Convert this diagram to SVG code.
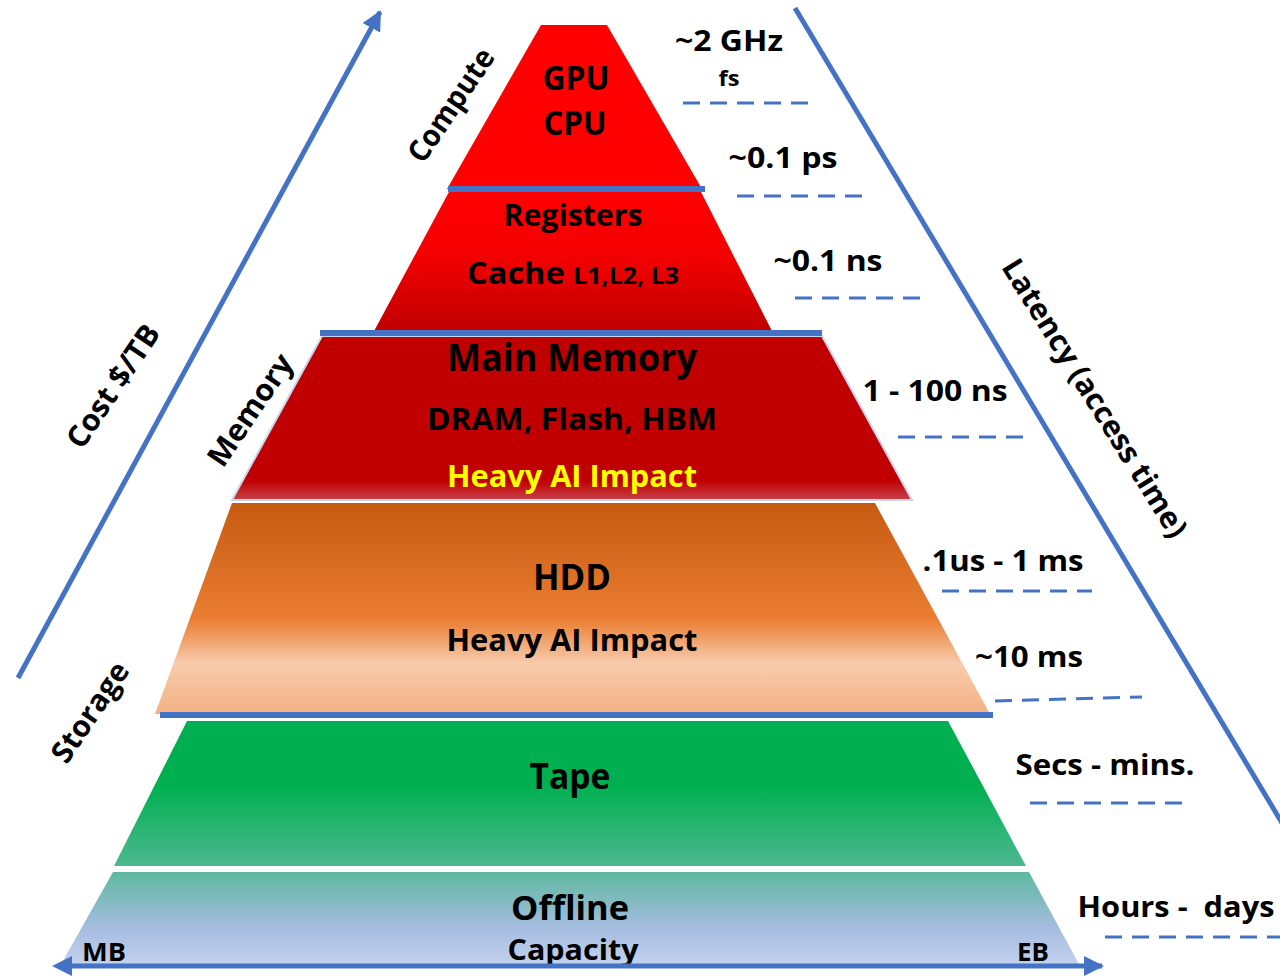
<svg xmlns="http://www.w3.org/2000/svg" width="1280" height="977" viewBox="0 0 1280 977">
<defs>
<style>
.t{font-family:"Open Sans","Liberation Sans",sans-serif;font-weight:bold;fill:#000;}
.m{text-anchor:middle;}
.blue{stroke:#4472C4;fill:none;}
.dash{stroke:#4472C4;stroke-width:3;stroke-dasharray:17 10;fill:none;}
.sep{stroke:#4472C4;stroke-width:6;}
</style>
<linearGradient id="gReg" x1="0" y1="0" x2="0" y2="1">
<stop offset="0" stop-color="#FF0000"/><stop offset="0.45" stop-color="#F50000"/><stop offset="1" stop-color="#BE0000"/>
</linearGradient>
<linearGradient id="gMem" x1="0" y1="0" x2="0" y2="1">
<stop offset="0" stop-color="#C00000"/><stop offset="0.88" stop-color="#C00000"/><stop offset="1" stop-color="#C8404A"/>
</linearGradient>
<linearGradient id="gHdd" x1="0" y1="0" x2="0" y2="1">
<stop offset="0" stop-color="#C55A11"/><stop offset="0.55" stop-color="#EA7D31"/><stop offset="0.76" stop-color="#F8CBAD"/><stop offset="1" stop-color="#F4B183"/>
</linearGradient>
<linearGradient id="gTape" x1="0" y1="0" x2="0" y2="1">
<stop offset="0" stop-color="#00B050"/><stop offset="0.45" stop-color="#00B050"/><stop offset="1" stop-color="#4DB890"/>
</linearGradient>
<linearGradient id="gOff" x1="0" y1="0" x2="0" y2="1">
<stop offset="0" stop-color="#5EB8A0"/><stop offset="0.6" stop-color="#A6BDE0"/><stop offset="1" stop-color="#C4D2EE"/>
</linearGradient>
<marker id="ah" viewBox="0 0 10 10" refX="9" refY="5" markerWidth="4" markerHeight="4" orient="auto" markerUnits="strokeWidth">
<path d="M0,0 L10,5 L0,10 z" fill="#4472C4"/>
</marker>
<marker id="ahs" viewBox="0 0 10 10" refX="1" refY="5" markerWidth="4" markerHeight="4" orient="auto-start-reverse" markerUnits="strokeWidth">
<path d="M0,0 L10,5 L0,10 z" fill="#4472C4"/>
</marker>
</defs>
<rect width="1280" height="977" fill="#FFFFFF"/>

<g id="layer-compute">
<polygon points="541,25 607,25 702,189 447,189" fill="#FF0000"/>
<text class="t m" x="576" y="90" font-size="34" textLength="67" lengthAdjust="spacingAndGlyphs">GPU</text>
<text class="t m" x="575" y="135" font-size="34" textLength="63" lengthAdjust="spacingAndGlyphs">CPU</text>
</g>

<g id="layer-cache">
<polygon points="450,190 700,190 773,333 373,333" fill="url(#gReg)"/>
<text class="t m" x="573" y="226" font-size="30" textLength="139" lengthAdjust="spacingAndGlyphs">Registers</text>
<text class="t m" x="573" y="284" font-size="30" textLength="212" lengthAdjust="spacingAndGlyphs">Cache <tspan font-size="23">L1,L2, L3</tspan></text>
</g>

<g id="layer-memory">
<polygon points="322,336 822,336 912,500 232,500" fill="url(#gMem)" stroke="#C9D6EE" stroke-width="2"/>
<text class="t m" x="572" y="371" font-size="38" textLength="250" lengthAdjust="spacingAndGlyphs">Main Memory</text>
<text class="t m" x="572" y="430" font-size="31" textLength="290" lengthAdjust="spacingAndGlyphs">DRAM, Flash, HBM</text>
<text class="t m" x="572" y="487" font-size="31" textLength="250" lengthAdjust="spacingAndGlyphs" style="fill:#FFFF00">Heavy AI Impact</text>
</g>

<g id="layer-hdd">
<polygon points="232,503 875,503 990,714 155,714" fill="url(#gHdd)"/>
<text class="t m" x="572" y="590" font-size="35" textLength="78" lengthAdjust="spacingAndGlyphs">HDD</text>
<text class="t m" x="572" y="651" font-size="31" textLength="251" lengthAdjust="spacingAndGlyphs">Heavy AI Impact</text>
</g>

<g id="layer-tape">
<polygon points="187,721 948,721 1026,866 114,866" fill="url(#gTape)"/>
<text class="t m" x="570" y="789" font-size="35" textLength="81" lengthAdjust="spacingAndGlyphs">Tape</text>
</g>

<g id="layer-offline">
<polygon points="113,872 1029,872 1080,966 60,966" fill="url(#gOff)"/>
<text class="t m" x="570" y="920" font-size="34" textLength="118" lengthAdjust="spacingAndGlyphs">Offline</text>
<text class="t m" x="573" y="960" font-size="28" textLength="131" lengthAdjust="spacingAndGlyphs">Capacity</text>
<text class="t m" x="104" y="961" font-size="25" textLength="44" lengthAdjust="spacingAndGlyphs">MB</text>
<text class="t m" x="1033" y="961" font-size="25" textLength="32" lengthAdjust="spacingAndGlyphs">EB</text>
</g>

<g id="latency-labels">
<text class="t m" x="729" y="51" font-size="29" textLength="108" lengthAdjust="spacingAndGlyphs">~2 GHz</text>
<text class="t m" x="729" y="86" font-size="22" textLength="21" lengthAdjust="spacingAndGlyphs">fs</text>
<text class="t m" x="783" y="168" font-size="29" textLength="109" lengthAdjust="spacingAndGlyphs">~0.1 ps</text>
<text class="t m" x="828" y="271" font-size="29" textLength="109" lengthAdjust="spacingAndGlyphs">~0.1 ns</text>
<text class="t m" x="935" y="401" font-size="29" textLength="145" lengthAdjust="spacingAndGlyphs">1 - 100 ns</text>
<text class="t m" x="1003" y="571" font-size="29" textLength="161" lengthAdjust="spacingAndGlyphs">.1us - 1 ms</text>
<text class="t m" x="1029" y="667" font-size="29" textLength="108" lengthAdjust="spacingAndGlyphs">~10 ms</text>
<text class="t m" x="1105" y="775" font-size="29" textLength="179" lengthAdjust="spacingAndGlyphs">Secs - mins.</text>
<text class="t m" x="1176" y="917" font-size="29" textLength="197" lengthAdjust="spacingAndGlyphs">Hours -&#160; days</text>
</g>

<g id="axis-labels">
<text class="t m" x="0" y="0" dy="0.35em" font-size="30" textLength="142" lengthAdjust="spacingAndGlyphs" transform="translate(113,386) rotate(-56)">Cost $/TB</text>
<text class="t m" x="0" y="0" dy="0.35em" font-size="30" textLength="130" lengthAdjust="spacingAndGlyphs" transform="translate(451,105) rotate(-56)">Compute</text>
<text class="t m" x="0" y="0" dy="0.35em" font-size="30" textLength="128" lengthAdjust="spacingAndGlyphs" transform="translate(250,410) rotate(-56)">Memory</text>
<text class="t m" x="0" y="0" dy="0.35em" font-size="30" textLength="114" lengthAdjust="spacingAndGlyphs" transform="translate(90,712) rotate(-56)">Storage</text>
<text class="t m" x="0" y="0" dy="0.35em" font-size="30" textLength="322" lengthAdjust="spacingAndGlyphs" transform="translate(1095,398) rotate(58)">Latency (access time)</text>
</g>

<g id="connectors">
<line class="sep" x1="448" y1="189" x2="705" y2="189"/>
<line class="sep" x1="320" y1="333" x2="822" y2="333"/>
<line class="sep" x1="160" y1="715" x2="993" y2="715"/>
<line x1="116" y1="869" x2="1030" y2="869" stroke="#FFFFFF" stroke-width="4"/>
<line class="blue" x1="18" y1="678" x2="380" y2="12" stroke-width="5" marker-end="url(#ah)"/>
<line class="blue" x1="795" y1="8" x2="1285" y2="828" stroke-width="5"/>
<line class="blue" x1="70" y1="966" x2="1102" y2="966" stroke-width="5" marker-start="url(#ahs)" marker-end="url(#ah)"/>
<line class="dash" x1="683" y1="103" x2="810" y2="103"/>
<line class="dash" x1="737" y1="196" x2="865" y2="196"/>
<line class="dash" x1="795" y1="298" x2="922" y2="298"/>
<line class="dash" x1="898" y1="437" x2="1027" y2="437"/>
<line class="dash" x1="942" y1="591" x2="1092" y2="591"/>
<line class="dash" x1="995" y1="701" x2="1142" y2="697"/>
<line class="dash" x1="1030" y1="803" x2="1185" y2="803"/>
<line class="dash" x1="1105" y1="937" x2="1280" y2="937"/>
</g>
</svg>
